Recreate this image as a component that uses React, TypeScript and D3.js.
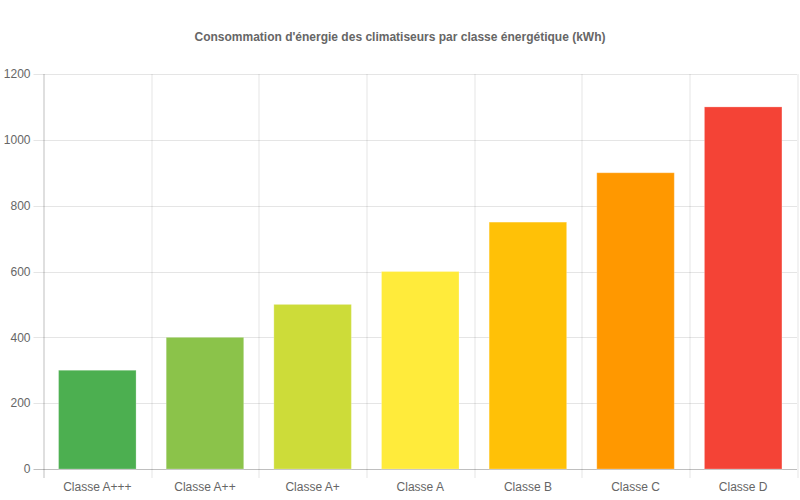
import React, { useEffect, useRef } from 'react'
import * as d3 from 'd3'

const categories = ['Classe A+++', 'Classe A++', 'Classe A+', 'Classe A', 'Classe B', 'Classe C', 'Classe D']
const consumption = [300, 400, 500, 600, 750, 900, 1100]
const barColors = ['#4CAF50', '#8BC34A', '#CDDC39', '#FFEB3B', '#FFC107', '#FF9800', '#F44336']
const yTicks = [0, 200, 400, 600, 800, 1000, 1200]
const title = "Consommation d'énergie des climatiseurs par classe énergétique (kWh)"

export default function App() {
    const svgRef = useRef<SVGSVGElement>(null)
    const width = 800
    const height = 500

    useEffect(() => {
        if (!svgRef.current) return
        const svg = d3.select(svgRef.current)
        svg.selectAll("*").remove()

        const margin = { top: 74, right: 3, bottom: 31, left: 43.5 }
        const innerWidth = width - margin.left - margin.right
        const innerHeight = height - margin.top - margin.bottom
        const font = '"Liberation Sans", Arial, sans-serif'

        svg.append("text")
            .attr("x", width / 2)
            .attr("y", 41)
            .attr("text-anchor", "middle")
            .attr("font-family", font)
            .attr("font-size", 12)
            .attr("font-weight", "bold")
            .attr("fill", "#666")
            .text(title)

        const x = d3.scaleBand().domain(categories).range([0, innerWidth]).paddingInner(0).paddingOuter(0)
        const y = d3.scaleLinear().domain([0, 1200]).range([innerHeight, 0])

        const g = svg.append("g").attr("transform", `translate(${margin.left},${margin.top})`)

        // horizontal grid + left ticks
        yTicks.forEach(t => {
            g.append("line")
                .attr("x1", -10).attr("x2", innerWidth)
                .attr("y1", Math.round(y(t)) + 0.5).attr("y2", Math.round(y(t)) + 0.5)
                .attr("stroke", t === 0 ? "rgba(0,0,0,0.25)" : "rgba(0,0,0,0.1)")
            g.append("text")
                .attr("x", -13)
                .attr("y", y(t))
                .attr("dy", "0.35em")
                .attr("text-anchor", "end")
                .attr("font-family", font)
                .attr("font-size", 12)
                .attr("fill", "#666")
                .text(t)
        })

        // vertical grid at category boundaries
        const bounds = categories.map(c => x(c) || 0).concat([innerWidth])
        bounds.forEach((b, i) => {
            g.append("line")
                .attr("x1", Math.round(b) + 0.5).attr("x2", Math.round(b) + 0.5)
                .attr("y1", 0).attr("y2", innerHeight + 9)
                .attr("stroke", i === 0 ? "rgba(0,0,0,0.25)" : "rgba(0,0,0,0.1)")
        })

        // bars
        const barW = x.bandwidth() * 0.72
        g.selectAll("rect.bar")
            .data(consumption)
            .enter().append("rect")
            .attr("class", "bar")
            .attr("x", (_, i) => (x(categories[i]) || 0) + (x.bandwidth() - barW) / 2)
            .attr("y", d => y(d))
            .attr("width", barW)
            .attr("height", d => innerHeight - y(d))
            .attr("fill", (_, i) => barColors[i])
            .attr("stroke", "#fff")
            .attr("stroke-opacity", 0.25)
            .attr("stroke-width", 1)

        // x labels
        categories.forEach(c => {
            g.append("text")
                .attr("x", (x(c) || 0) + x.bandwidth() / 2)
                .attr("y", innerHeight + 22)
                .attr("text-anchor", "middle")
                .attr("font-family", font)
                .attr("font-size", 12)
                .attr("fill", "#666")
                .text(c)
        })
    }, [])

    return (
        <div style={{ position: 'fixed', left: 0, top: 0, width, height, background: '#fff' }}>
            <svg ref={svgRef} width={width} height={height} viewBox={`0 0 ${width} ${height}`} />
        </div>
    )
}
